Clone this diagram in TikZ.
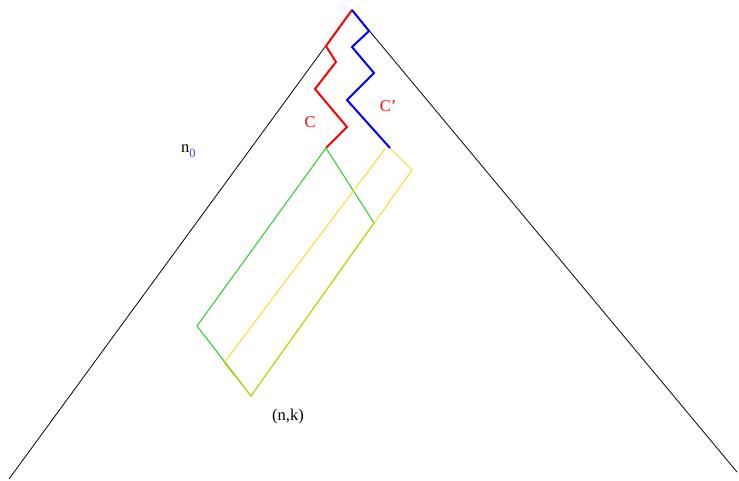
\documentclass[tikz,border=0pt]{standalone}
\usepackage{fontspec}
\setmainfont{Liberation Serif}
\usetikzlibrary{calc}
\definecolor{boxgreen}{RGB}{40,205,40}
\definecolor{boxyellow}{RGB}{255,210,0}
\tikzset{
  cone/.style={draw=black, line width=0.8pt},
  pathC/.style={draw=red, line width=2pt},
  pathCp/.style={draw=blue, line width=2pt},
  boxG/.style={draw=boxgreen, line width=1pt},
  boxY/.style={draw=boxyellow, line width=1pt, draw opacity=0.85},
  lbl/.style={font=\fontsize{16.5}{18}\selectfont, inner sep=0pt}
}

\begin{document}
\begin{tikzpicture}[x=1pt, y=-1pt]
\useasboundingbox (0,0) rectangle (739,481);

% cone
\coordinate (top) at (352,10);
\coordinate (bl) at (9,479);
\coordinate (br) at (737,472);
\draw[cone] (bl) -- (top) -- (br);

% paths C and C'
\coordinate (endC) at (326,148);
\coordinate (endCp) at (390,148);
\draw[pathC] (top) -- (326,46) -- (336,62) -- (315,89) -- (347,127) -- (endC);
\draw[pathCp] (top) -- (369,31) -- (352,47) -- (374,73) -- (347,100) -- (endCp);

% boxes
\coordinate (low) at (251,396);
\draw[boxG] (endC) -- (197,326) -- (low) -- (374,223) -- cycle;
\draw[boxY] (385,149) -- (224,363) -- (low) -- (412,170) -- (endCp);

% labels
\node[lbl, text=red] (labC) at (310,122) {C};
\node[lbl, text=red] (labCp) at (388,106) {C'};
\node[lbl, anchor=base west] (labn) at (181,153)
  {n\raisebox{-5pt}{\fontsize{12.5}{13}\selectfont\color{blue!75}0}};
\node[lbl] (labnk) at (288,417) {(n,k)};

\end{tikzpicture}
\end{document}
